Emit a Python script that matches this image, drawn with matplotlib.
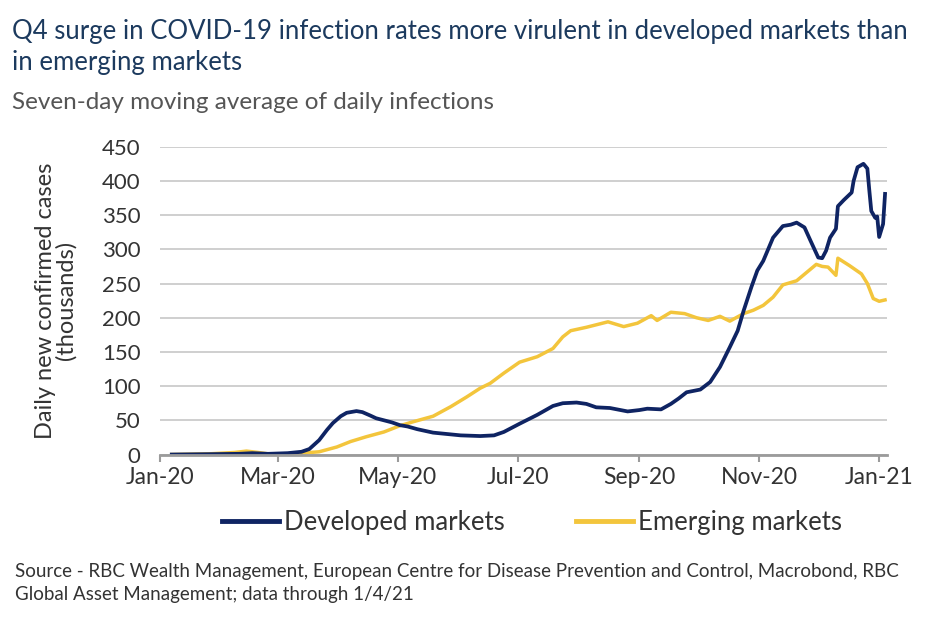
import numpy as np
import matplotlib
matplotlib.use("Agg")
import matplotlib.pyplot as plt
import matplotlib.dates as mdates
from matplotlib.lines import Line2D

# ── Data (thousands of cases) ────────────────────────────────────────────────

dm_dates = [
    "2020-01-07", "2020-01-26", "2020-02-10", "2020-02-17", "2020-02-25", "2020-03-06",
    "2020-03-13", "2020-03-17", "2020-03-22", "2020-03-26", "2020-03-29", "2020-04-02",
    "2020-04-05", "2020-04-10", "2020-04-13", "2020-04-17", "2020-04-20", "2020-04-24",
    "2020-04-28", "2020-05-02", "2020-05-06", "2020-05-11", "2020-05-19", "2020-05-26",
    "2020-06-02", "2020-06-12", "2020-06-19", "2020-06-24", "2020-07-02", "2020-07-11",
    "2020-07-19", "2020-07-24", "2020-07-31", "2020-08-05", "2020-08-10", "2020-08-17",
    "2020-08-26", "2020-09-01", "2020-09-05", "2020-09-12", "2020-09-17", "2020-09-21",
    "2020-09-25", "2020-10-02", "2020-10-07", "2020-10-12", "2020-10-17", "2020-10-21",
    "2020-10-24", "2020-10-28", "2020-10-31", "2020-11-03", "2020-11-08", "2020-11-13",
    "2020-11-17", "2020-11-20", "2020-11-24", "2020-11-27", "2020-12-01", "2020-12-03",
    "2020-12-05", "2020-12-07", "2020-12-10", "2020-12-11", "2020-12-14", "2020-12-18",
    "2020-12-19", "2020-12-21", "2020-12-24", "2020-12-26", "2020-12-27", "2020-12-28",
    "2020-12-30", "2020-12-31", "2021-01-01", "2021-01-03", "2021-01-04",
]
dm_values = [
    0, 0.5, 1, 2, 1, 2,
    4, 8, 21, 36, 46, 56,
    61, 63.5, 62, 57, 53, 50,
    47, 43, 41, 37, 32, 30,
    28, 27, 28, 33, 45, 58,
    71, 75, 76, 74, 69, 68,
    63, 65, 67, 66, 74, 82,
    91, 95, 106, 128, 157, 181,
    210, 245, 269, 283, 317, 334,
    336, 339, 332, 313, 288, 287,
    298, 317, 330, 363, 372, 383,
    400, 420, 425, 418, 386, 356,
    346, 348, 318, 337, 381,
]

em_dates = [
    "2020-01-07", "2020-01-26", "2020-02-08", "2020-02-14", "2020-02-20", "2020-02-25",
    "2020-03-06", "2020-03-13", "2020-03-22", "2020-03-31", "2020-04-07", "2020-04-15",
    "2020-04-24", "2020-05-02", "2020-05-09", "2020-05-19", "2020-05-28", "2020-06-05",
    "2020-06-12", "2020-06-17", "2020-06-24", "2020-07-02", "2020-07-11", "2020-07-19",
    "2020-07-24", "2020-07-28", "2020-08-05", "2020-08-16", "2020-08-24", "2020-08-31",
    "2020-09-07", "2020-09-10", "2020-09-17", "2020-09-24", "2020-09-30", "2020-10-06",
    "2020-10-12", "2020-10-17", "2020-10-24", "2020-10-29", "2020-11-03", "2020-11-08",
    "2020-11-13", "2020-11-20", "2020-11-25", "2020-11-30", "2020-12-03", "2020-12-06",
    "2020-12-10", "2020-12-11", "2020-12-17", "2020-12-23", "2020-12-26", "2020-12-29",
    "2021-01-01", "2021-01-04",
]
em_values = [
    0, 1, 3, 5, 3, 1,
    1, 2, 4, 11, 19, 26,
    33, 42, 48, 56, 70, 84,
    97, 104, 119, 135, 143, 155,
    172, 181, 186, 194, 187, 192,
    203, 196, 208, 206, 200, 196,
    202, 195, 206, 211, 218, 230,
    248, 254, 266, 278, 275, 274,
    262, 287, 276, 264, 250, 228,
    224, 226,
]

series_names = ["Developed markets", "Emerging markets"]
y_ticks = [0, 50, 100, 150, 200, 250, 300, 350, 400, 450]

title = ("Q4 surge in COVID-19 infection rates more virulent in developed markets than\n"
         "in emerging markets")
subtitle = "Seven-day moving average of daily infections"
y_label = "Daily new confirmed cases\n(thousands)"
source = ("Source - RBC Wealth Management, European Centre for Disease Prevention and Control, Macrobond, RBC\n"
          "Global Asset Management; data through 1/4/21")

# ── Style ────────────────────────────────────────────────────────────────────

NAVY = "#0f2463"
GOLD = "#f3c53c"
GRID = "#cfcfcf"
AXIS = "#9b9b9b"
TEXT = "#333333"

plt.rcParams["font.family"] = ["Lato", "DejaVu Sans"]

fig = plt.figure(figsize=(9.5, 6.24), dpi=100)
ax = fig.add_axes([0.1684, 0.2716, 0.7653, 0.4933])

ax.plot(np.array(em_dates, dtype="datetime64[D]"), em_values,
        color=GOLD, lw=2.5, solid_joinstyle="round", zorder=3)
ax.plot(np.array(dm_dates, dtype="datetime64[D]"), dm_values,
        color=NAVY, lw=2.7, solid_joinstyle="round", zorder=4)

ax.set_xlim(np.datetime64("2020-01-01"), np.datetime64("2021-01-05"))
ax.set_ylim(0, 450)
ax.set_yticks(y_ticks)
ax.yaxis.grid(True, color=GRID, lw=1.4)
ax.set_axisbelow(True)

ax.xaxis.set_major_locator(mdates.MonthLocator(bymonth=[1, 3, 5, 7, 9, 11]))
ax.xaxis.set_major_formatter(mdates.DateFormatter("%b-%y"))

for side in ["top", "right", "left"]:
    ax.spines[side].set_visible(False)
ax.spines["bottom"].set_color(AXIS)
ax.spines["bottom"].set_linewidth(2)
ax.spines["bottom"].set_zorder(5)

ax.tick_params(axis="y", length=0, pad=14, labelsize=16, labelcolor=TEXT)
ax.tick_params(axis="x", length=5, width=1.5, color=AXIS, pad=4,
               labelsize=16.5, labelcolor=TEXT)
for lbl in ax.get_yticklabels():
    lbl.set_va("center_baseline")

ax.set_ylabel(y_label, fontsize=17, color=TEXT, linespacing=0.95, labelpad=18)

fig.text(0.013, 0.970, title, fontsize=18.5, color="#1c3a5e", va="top",
         linespacing=1.3)
fig.text(0.013, 0.853, subtitle, fontsize=17.5, color="#555555", va="top")
fig.text(0.016, 0.098, source, fontsize=13.5, color=TEXT, va="top",
         linespacing=1.45)

handles = [Line2D([], [], color=NAVY, lw=3.5), Line2D([], [], color=GOLD, lw=3.5)]
fig.legend(handles, series_names, loc="center", bbox_to_anchor=(0.56, 0.163),
           ncol=2, frameon=False, fontsize=18.5, handlelength=2.2,
           handletextpad=0.2, columnspacing=2.8, labelcolor=TEXT)

fig.savefig("out.png", dpi=100, facecolor="white")
